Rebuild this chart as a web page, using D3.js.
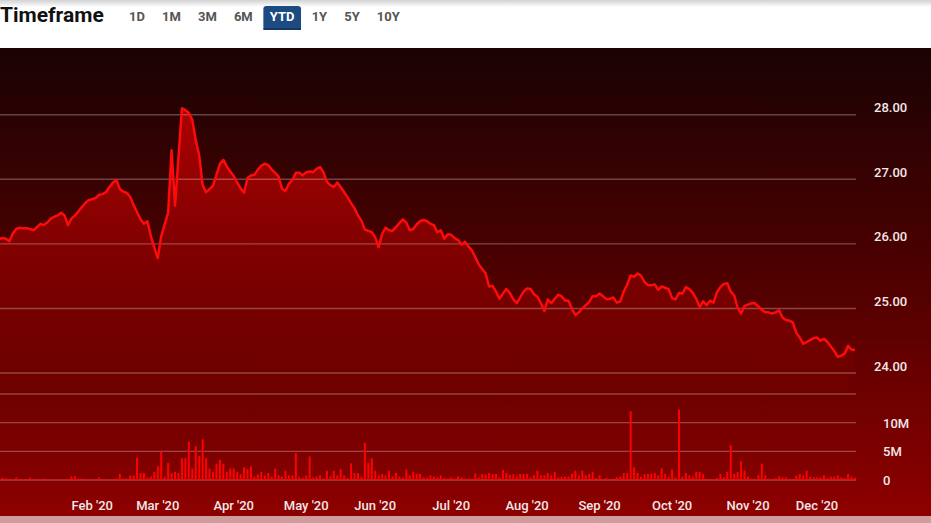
<!DOCTYPE html>
<html><head><meta charset="utf-8">
<script src="https://cdn.jsdelivr.net/npm/d3@7/dist/d3.min.js"></script>
<style>html,body{margin:0;padding:0;background:#fff;overflow:hidden}svg{display:block}text{font-family:Roboto,"Open Sans",sans-serif}</style>
</head><body><svg id="c" width="931" height="523"></svg>
<script>
// ---- data ----
const timeframeButtons = ["1D","1M","3M","6M","YTD","1Y","5Y","10Y"];
const selectedButton = "YTD";
const monthLabels = ["Feb '20","Mar '20","Apr '20","May '20","Jun '20","Jul '20","Aug '20","Sep '20","Oct '20","Nov '20","Dec '20"];
const monthStartIndex = [27,46,68,89,109,131,153,174,195,217,237];
const priceTicks = [24,25,26,27,28];
const volumeTicks = [0,5,10,15];
const volumeTickLabels = ["0","5M","10M",""];
const priceValues = [
26.07,26.09,26.08,26.04,26.16,26.23,26.25,26.24,26.24,26.23,
26.21,26.26,26.31,26.29,26.33,26.39,26.42,26.44,26.48,26.44,
26.29,26.39,26.44,26.50,26.57,26.63,26.68,26.69,26.71,26.76,
26.77,26.80,26.88,26.95,26.99,26.85,26.81,26.79,26.73,26.60,
26.49,26.38,26.31,26.35,26.12,25.94,25.78,26.12,26.30,26.48,
27.45,26.59,27.34,28.10,28.07,28.03,27.92,27.61,27.37,26.91,
26.80,26.85,26.90,27.07,27.24,27.30,27.20,27.12,27.05,26.95,
26.86,26.79,27.02,27.06,27.07,27.15,27.21,27.24,27.22,27.15,
27.10,27.04,26.85,26.82,26.93,26.99,27.10,27.10,27.06,27.11,
27.12,27.11,27.16,27.19,27.11,26.96,26.91,26.88,26.95,26.88,
26.80,26.72,26.63,26.55,26.44,26.36,26.22,26.20,26.18,26.10,
25.95,26.15,26.25,26.21,26.20,26.26,26.32,26.38,26.33,26.21,
26.23,26.30,26.35,26.37,26.35,26.31,26.29,26.18,26.21,26.08,
26.15,26.14,26.09,26.06,25.99,26.03,25.96,25.90,25.79,25.68,
25.61,25.54,25.34,25.35,25.26,25.15,25.23,25.30,25.24,25.14,
25.08,25.17,25.26,25.31,25.30,25.22,25.18,25.08,24.96,25.14,
25.08,25.15,25.21,25.19,25.12,25.12,24.99,24.90,24.94,25.00,
25.05,25.10,25.19,25.19,25.23,25.19,25.14,25.15,25.17,25.09,
25.11,25.26,25.37,25.51,25.49,25.54,25.51,25.41,25.36,25.36,
25.37,25.29,25.34,25.32,25.30,25.16,25.14,25.24,25.23,25.33,
25.30,25.24,25.15,25.02,25.11,25.05,25.12,25.09,25.25,25.33,
25.38,25.39,25.26,25.20,25.01,24.92,25.04,25.06,25.08,25.08,
25.03,24.98,24.94,24.94,24.92,24.94,24.97,24.86,24.82,24.81,
24.78,24.62,24.55,24.45,24.48,24.51,24.54,24.55,24.50,24.53,
24.48,24.41,24.34,24.25,24.27,24.30,24.42,24.36,24.36];
// volume in millions
const volumeValues = [
0.4,0.4,0.3,0.15,0.1,0.45,0.1,0.1,0.1,0.45,
0.1,0.1,0.1,0.25,0.1,0.1,0.1,0.1,0.1,0.1,
0.1,0.65,0.65,0.25,0.25,0.1,0.1,0.1,0.1,0.45,
0.1,0.1,0.1,0.15,0.25,1.05,0.25,0.25,0.8,0.8,
3.9,1.2,1.2,0.45,0.6,1.4,2.4,4.9,0.6,3.0,
1.2,1.4,1.2,3.8,3.8,6.7,2.0,5.9,4.2,7.1,
3.8,2.0,1.4,2.85,3.5,2.8,1.4,2.0,2.0,1.4,
1.05,2.2,1.9,2.4,0.6,0.95,1.4,0.8,1.2,0.6,
2.0,0.8,0.6,1.6,0.8,0.8,4.7,0.6,0.35,0.8,
4.1,0.45,0.6,0.8,0.25,1.6,0.6,1.6,0.8,1.9,
0.8,0.35,2.9,1.2,1.2,0.6,6.5,3.0,3.8,1.6,
0.8,1.05,0.8,1.6,0.6,1.2,0.6,0.45,1.85,0.8,
1.4,1.05,1.05,0.45,0.45,0.8,0.6,0.45,0.8,0.35,
0.25,0.45,0.25,0.65,0.45,0.25,0.25,0.2,1.15,0.47,
1.05,0.93,1.22,1.05,1.05,0.47,1.74,1.22,0.93,1.05,
0.58,1.05,1.05,1.05,0.47,0.81,1.63,0.81,0.81,1.22,
0.81,1.4,0.47,0.58,0.58,0.58,1.05,1.63,0.81,1.63,
0.81,1.05,1.4,0.35,0.81,0.12,0.35,0.12,0.23,0.47,
0.58,1.22,1.22,12.0,2.21,1.22,0.58,1.05,1.05,1.05,
1.22,0.81,2.03,1.05,0.58,1.86,0.47,12.3,0.58,1.22,
0.81,0.58,1.4,1.4,1.05,0.23,0.12,0.12,0.35,1.05,
0.47,1.4,6.05,1.05,1.4,3.26,1.63,0.58,0.23,0.23,
0.81,2.85,0.81,0.23,0.12,0.35,0.58,0.47,0.47,0.2,
0.12,0.81,1.05,0.81,1.63,0.58,0.47,0.47,0.47,0.81,
0.35,0.58,0.58,0.81,0.47,0.35,1.05,0.58,0.4];

// ---- layout ----
const W = 931, H = 523;
const chartTop = 48, chartBottom = 516, gridRight = 856;
const svg = d3.select("#c");
const defs = svg.append("defs");

const x = d3.scaleLinear().domain([0, priceValues.length - 1]).range([-1, 855]);
const y = d3.scaleLinear().domain([24, 28]).range([373, 114.7]);
const vy = d3.scaleLinear().domain([0, 15]).range([480, 394]);

// gradients
const hg = defs.append("linearGradient").attr("id","hdr").attr("x1",0).attr("y1",0).attr("x2",0).attr("y2",1);
hg.append("stop").attr("offset",0).attr("stop-color","#d2d2d2");
hg.append("stop").attr("offset",1).attr("stop-color","#ffffff");
const bg = defs.append("linearGradient").attr("id","bg").attr("x1",0).attr("y1",0).attr("x2",0).attr("y2",1);
bg.append("stop").attr("offset",0).attr("stop-color","#1a0304");
bg.append("stop").attr("offset",0.5).attr("stop-color","#500000");
bg.append("stop").attr("offset",1).attr("stop-color","#8e0000");
const ag = defs.append("linearGradient").attr("id","ag").attr("gradientUnits","userSpaceOnUse")
  .attr("x1",0).attr("y1",107).attr("x2",0).attr("y2",393);
ag.append("stop").attr("offset",0).attr("stop-color","#ff0000").attr("stop-opacity",0.62);
ag.append("stop").attr("offset",1).attr("stop-color","#ff0000").attr("stop-opacity",0.0);

// header
svg.append("rect").attr("x",0).attr("y",0).attr("width",W).attr("height",chartTop).attr("fill","#fff");
svg.append("rect").attr("x",0).attr("y",0).attr("width",W).attr("height",7).attr("fill","url(#hdr)");
svg.append("text").attr("x",0).attr("y",22).attr("font-size",21).attr("font-weight",700)
  .attr("fill","#111").text("Timeframe");
let bx = 129;
const btnG = svg.append("g");
timeframeButtons.forEach(b => {
  const sel = b === selectedButton;
  const t = btnG.append("text").attr("x",bx).attr("y",21).attr("font-size",13).attr("font-weight",700)
    .attr("fill", sel ? "#fff" : "#555").text(b);
  const w = t.node().getComputedTextLength();
  if (sel) {
    btnG.insert("rect","text").attr("x",bx-6.5).attr("y",6).attr("width",w+13).attr("height",24)
      .attr("rx",3).attr("fill","#1c4a82");
    btnG.insert("rect","text").attr("x",bx-6.5).attr("y",28).attr("width",w+13).attr("height",2)
      .attr("fill","#143866");
  }
  bx += w + 17.1;
});

// chart background
svg.append("rect").attr("x",0).attr("y",chartTop).attr("width",W).attr("height",chartBottom-chartTop).attr("fill","url(#bg)");
svg.append("rect").attr("x",0).attr("y",chartBottom).attr("width",W).attr("height",H-chartBottom).attr("fill","#cf9c9c");

// area
const idx = d3.range(priceValues.length);
svg.append("path").datum(idx)
  .attr("d", d3.area().x(i=>x(i)).y0(393).y1(i=>y(priceValues[i])))
  .attr("fill","url(#ag)");

// gridlines
const grid = svg.append("g").attr("stroke","rgba(255,255,255,0.27)").attr("stroke-width",1.4);
priceTicks.forEach(t => grid.append("line").attr("x1",0).attr("x2",gridRight).attr("y1",y(t)).attr("y2",y(t)));
volumeTicks.forEach(t => grid.append("line").attr("x1",0).attr("x2",gridRight).attr("y1",vy(t)).attr("y2",vy(t)));

// price line
svg.append("path").datum(idx)
  .attr("d", d3.line().x(i=>x(i)).y(i=>y(priceValues[i])))
  .attr("fill","none").attr("stroke","#ff0a0a").attr("stroke-width",2.5).attr("stroke-linejoin","round");

// volume bars
svg.append("g").selectAll("rect").data(idx).join("rect")
  .attr("x", i => x(i) - 1).attr("width", 2)
  .attr("y", i => vy(volumeValues[i])).attr("height", i => vy(0) - vy(volumeValues[i]))
  .attr("fill","#ff0000");

// axis labels
const lab = svg.append("g").attr("fill","#f2e8e8").attr("font-size",13).attr("font-weight",500);
priceTicks.forEach(t => lab.append("text").attr("x",874).attr("y",y(t)-2.5).text(t.toFixed(2)));
volumeTicks.forEach((t,k) => { if (volumeTickLabels[k]) lab.append("text").attr("x",883).attr("y",vy(t)+5).text(volumeTickLabels[k]); });
monthLabels.forEach((m,k) => lab.append("text").attr("x",x(monthStartIndex[k])).attr("y",510)
  .attr("text-anchor","middle").text(m));
</script></body></html>
